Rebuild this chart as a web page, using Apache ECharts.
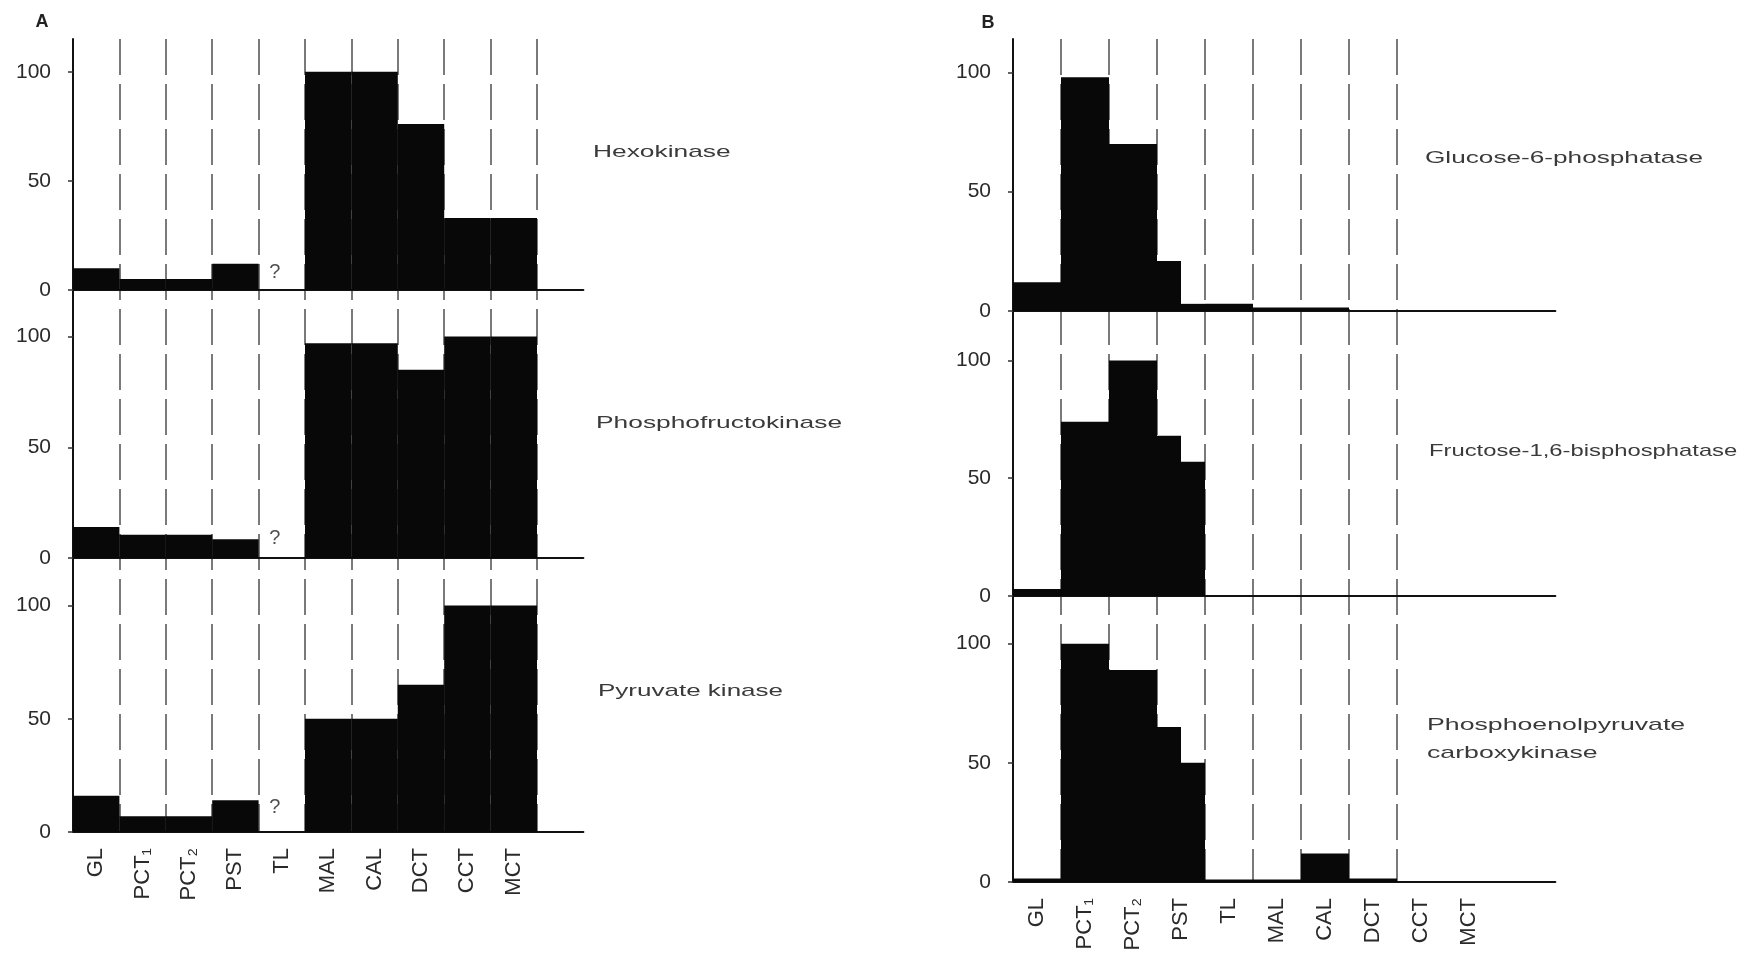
<!DOCTYPE html>
<html>
<head>
<meta charset="utf-8">
<title>Enzyme activity along the nephron</title>
<script src="https://cdn.jsdelivr.net/npm/echarts@6/dist/echarts.min.js"></script>
<style>
  html, body { margin: 0; background: #fff; }
  #chart { width: 1762px; height: 954px; }
</style>
</head>
<body>
<div id="chart"></div>
<script type="text/javascript">

// nephron segments (x axis)
var segments = ['GL', 'PCT\u2081', 'PCT\u2082', 'PST', 'TL', 'MAL', 'CAL', 'DCT', 'CCT', 'MCT'];
var yTicks = [0, 50, 100];

// panel A, % of max activity per segment (null = not measured, "?")
var hexokinase          = [10, 5, 5, 12, null, 100, 100, 76, 33, 33];
var phosphofructokinase = [14, 10.5, 10.5, 8.5, null, 97, 97, 85, 100, 100];
var pyruvateKinase      = [16, 7, 7, 14, null, 50, 50, 65, 100, 100];

// panel B, PST is split in two halves [first, second]
var glucose6Phosphatase    = [12, 98, 70, [21, 3], 3, 1.5, 1.5, null, null, null];
var fructoseBisphosphatase = [3, 74, 100, [68, 57], null, null, null, null, null, null];
var pepCarboxykinase       = [1.5, 100, 89, [65, 50], 1, 1, 12, 1.5, null, null];

var unknownSegment = 4;          // TL in panel A
var unknownMarkHeight = [8, 9, 11];

var chart = echarts.init(document.getElementById('chart'));

var panels = [
    {
        left: 73, segW: 46.4, ext: 11, dashed: 10,
        bounds: [39, 290, 558, 832], max: [115, 121, 121],
        data: [hexokinase, phosphofructokinase, pyruvateKinase],
        names: [
            {text: 'Hexokinase', x: 593, y: 152, sx: 1.55},
            {text: 'Phosphofructokinase', x: 596, y: 423, sx: 1.55},
            {text: 'Pyruvate kinase', x: 598, y: 691, sx: 1.53}
        ],
        unknown: true
    },
    {
        left: 1013, segW: 48, ext: 11.3, dashed: 8,
        bounds: [39, 311, 596, 882], max: [114, 121, 120],
        data: [glucose6Phosphatase, fructoseBisphosphatase, pepCarboxykinase],
        names: [
            {text: 'Glucose-6-phosphatase', x: 1425, y: 158, sx: 1.54},
            {text: 'Fructose-1,6-bisphosphatase', x: 1429, y: 451, sx: 1.4},
            {text: 'Phosphoenolpyruvate\ncarboxykinase', x: 1427, y: 739, sx: 1.57}
        ],
        unknown: false
    }
];

// segment values -> [start, end, value] blocks
function toBlocks(values) {
    var out = [];
    values.forEach(function (v, i) {
        if (v === null) return;
        if (Array.isArray(v)) {
            out.push([i, i + 0.5, v[0]]);
            out.push([i + 0.5, i + 1, v[1]]);
        } else {
            out.push([i, i + 1, v]);
        }
    });
    return out;
}

function renderBlock(params, api) {
    var p0 = api.coord([api.value(0), api.value(2)]);
    var p1 = api.coord([api.value(1), 0]);
    return {
        type: 'rect',
        shape: {x: p0[0], y: p0[1], width: p1[0] - p0[0], height: p1[1] - p0[1]},
        style: {fill: '#080808'}
    };
}

var grid = [], xAxis = [], yAxis = [], series = [], graphic = [];
var font = '"Liberation Sans", "DejaVu Sans", Arial, sans-serif';

panels.forEach(function (p, pi) {
    // dashed separators spanning the whole panel
    var gi = grid.length;
    grid.push({left: p.left, top: p.bounds[0], width: p.dashed * p.segW,
               height: p.bounds[3] - p.bounds[0]});
    xAxis.push({
        gridIndex: gi, type: 'value', min: 0, max: p.dashed, interval: 1,
        axisLine: {show: false}, axisTick: {show: false}, axisLabel: {show: false},
        splitLine: {show: true, lineStyle: {color: '#7a7a7a', width: 2, type: [36, 9]}}
    });
    yAxis.push({gridIndex: gi, type: 'value', show: false, min: 0, max: 1});

    for (var k = 0; k < 3; k++) {
        gi = grid.length;
        var bottom = (k === 2);
        grid.push({left: p.left, top: p.bounds[k], width: p.ext * p.segW,
                   height: p.bounds[k + 1] - p.bounds[k]});
        xAxis.push({
            gridIndex: gi, type: 'value', min: 0, max: p.ext,
            axisLine: {show: true, onZero: false, lineStyle: {color: '#111', width: 2}},
            axisTick: {show: false},
            splitLine: {show: false},
            axisLabel: {
                show: bottom,
                customValues: [0.5, 1.5, 2.5, 3.5, 4.5, 5.5, 6.5, 7.5, 8.5, 9.5],
                rotate: 90, margin: 16,
                color: '#2a2a2a', fontSize: 22, fontFamily: font,
                formatter: function (v) { return segments[Math.floor(v)]; }
            }
        });
        yAxis.push({
            gridIndex: gi, type: 'value', min: 0, max: p.max[k],
            axisLine: {show: true, lineStyle: {color: '#111', width: 2}},
            axisTick: {show: true, length: 5, customValues: yTicks, lineStyle: {color: '#333', width: 1.5}},
            axisLabel: {customValues: yTicks, margin: 22, color: '#2a2a2a', fontSize: 21, fontFamily: font},
            splitLine: {show: false}
        });
        series.push({
            type: 'custom',
            xAxisIndex: gi, yAxisIndex: gi,
            renderItem: renderBlock,
            encode: {x: [0, 1], y: 2},
            data: toBlocks(p.data[k]),
            z: 3
        });
        if (p.unknown) {
            series.push({
                type: 'scatter',
                xAxisIndex: gi, yAxisIndex: gi,
                symbolSize: 1,
                itemStyle: {color: 'rgba(0,0,0,0)'},
                label: {show: true, position: 'inside', formatter: '?', offset: [-7, 0],
                        color: '#222', fontSize: 20, fontFamily: font},
                data: [[unknownSegment + 0.5, unknownMarkHeight[k]]],
                z: 4
            });
        }
    }

    p.names.forEach(function (n) {
        graphic.push({
            type: 'text', x: n.x, y: n.y, scaleX: n.sx,
            style: {text: n.text, fill: '#3a3a3a', font: '17px ' + font,
                    align: 'left', verticalAlign: 'middle', lineHeight: 28}
        });
    });
});

graphic.push({type: 'text', x: 42, y: 22,
    style: {text: 'A', fill: '#222', font: 'bold 18px ' + font, align: 'center', verticalAlign: 'middle'}});
graphic.push({type: 'text', x: 988, y: 23,
    style: {text: 'B', fill: '#222', font: 'bold 18px ' + font, align: 'center', verticalAlign: 'middle'}});

var option = {
    backgroundColor: '#ffffff',
    animation: false,
    grid: grid,
    xAxis: xAxis,
    yAxis: yAxis,
    series: series,
    graphic: graphic
};

chart.setOption(option);

</script>
</body>
</html>
